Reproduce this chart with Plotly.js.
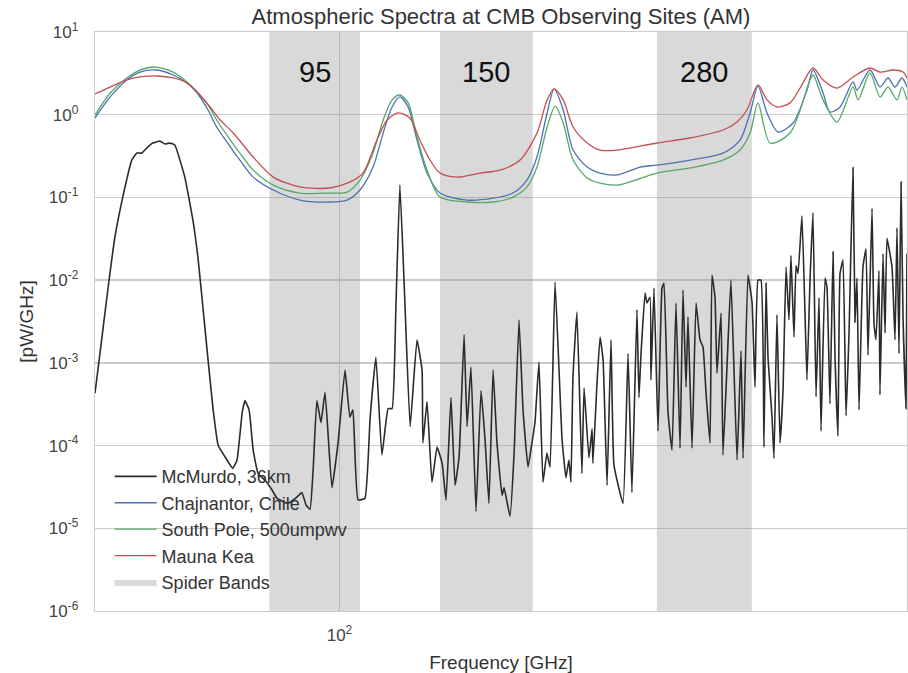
<!DOCTYPE html>
<html>
<head>
<meta charset="utf-8">
<script src="https://cdn.plot.ly/plotly-3.0.1.min.js"></script>
<style>html,body{margin:0;padding:0;background:#fff;}#chart{width:908px;height:673px;}</style>
</head>
<body>
<div id="chart"></div>
<script>
// McMurdo, 36km
const mcFreq = [
 50.0,51.0,51.9,52.9,54.1,55.5,56.3,57.1,57.9,58.9,
 60.1,61.0,61.8,62.7,64.5,66.0,67.0,67.9,68.9,69.9,
 70.9,72.7,73.9,74.8,75.9,76.5,77.4,78.3,79.4,81.0,
 82.6,83.8,86.4,88.7,89.9,91.0,92.0,92.8,93.8,94.9,
 96.0,97.9,99.6,101.6,103.0,103.9,105.4,107.5,109.1,110.9,
 112.8,114.8,116.1,117.4,118.7,120.4,122.2,124.6,126.4,126.7,
 128.2,130.0,131.9,133.8,135.3,137.2,138.8,140.4,142.4,143.6,
 145.2,147.3,149.4,151.1,152.8,154.6,156.3,158.6,159.5,162.2,
 164.1,166.4,168.3,170.7,172.6,174.1,176.1,178.1,180.1,181.7,
 184.3,188.0,190.1,191.7,192.8,193.9,196.1,198.9,200.1,202.9,
 204.7,205.2,207.6,209.4,211.2,213.6,216.0,217.8,223.5,226.7,
 229.2,232.5,233.8,235.2,237.9,239.2,241.3,241.9,244.0,246.8,
 249.6,251.0,253.9,256.8,259.7,262.7,264.9,267.2,268.7,271.8,
 274.9,278.0,280.4,282.8,286.0,287.6,290.1,291.7,295.1,296.7,
 300.1,303.5,308.8,312.3,314.1,318.5,322.2,324.9,327.7,330.5,
 333.3,335.2,337.1,341.0,342.9,345.8,348.8,351.8,354.8,357.8,
 359.8,362.9,365.0,367.1,371.2,374.4,376.5,379.8,383.0,386.3,
 389.6,391.8,396.3,398.5,401.9,405.4,407.7,411.1,413.5,417.0,
 420.6,424.2,429.0,431.5,433.9,436.4,441.3,445.1,447.7,452.8,
 455.3,457.9,461.8,463.1,467.1,469.8,472.4,479.2,483.3,486.0,
 488.8,491.6,494.4,498.6,500.0
];
const mcVal = [
 4.3e-4,2.05e-3,8.2e-3,3.3e-2,0.101,0.283,0.344,0.344,0.396,0.454,
 0.48,0.442,0.454,0.43,0.176,0.053,0.0175,4.7e-3,1.08e-3,2.7e-4,
 1.01e-4,6.7e-5,5.3e-5,6.7e-5,2.5e-4,3.5e-4,2.7e-4,8.8e-5,4.6e-5,3.8e-5,
 2.9e-5,2.3e-5,2.0e-5,2.4e-5,2.7e-5,1.9e-5,1.7e-5,5.0e-5,3.5e-4,1.9e-4,
 4.4e-4,3.1e-5,1.07e-4,8.2e-4,2.2e-4,2.7e-4,2.2e-5,2.3e-5,2.2e-4,1.17e-3,
 7.7e-5,2.8e-4,2.8e-4,5.3e-3,0.141,5.3e-3,1.7e-4,1.9e-3,8.2e-4,1.07e-4,
 3.4e-4,3.6e-5,9.6e-5,6.1e-5,2.2e-5,3.8e-4,3.3e-5,7.3e-5,2.2e-3,1.7e-4,
 8.9e-4,1.6e-5,4.6e-4,1.2e-4,2.0e-5,8.2e-4,1.1e-4,2.5e-5,3.1e-5,1.4e-5,
 8.1e-5,3.3e-3,2.7e-4,5.5e-5,1.07e-4,1.9e-4,1.02e-3,3.6e-5,8.1e-5,5.5e-5,
 9.5e-3,1.2e-4,4.1e-5,6.7e-5,3.6e-5,6.7e-4,4.1e-3,4.6e-5,5.0e-4,7.1e-5,
 1.6e-4,6.1e-5,5.7e-4,2.05e-3,1.08e-3,3.3e-5,1.9e-3,5.8e-5,2.0e-5,1.3e-3,
 2.7e-5,4.4e-3,3.8e-4,1.3e-3,7.0e-3,5.3e-3,6.2e-3,6.2e-4,8.0e-3,1.5e-4,
 8.0e-3,9.2e-3,2.5e-4,8.8e-5,5.3e-3,9.3e-5,7.6e-3,5.1e-4,3.6e-3,9.3e-5,
 5.3e-3,1.9e-3,1.55e-3,4.3e-4,1.07e-4,1.15e-2,6.2e-3,7.5e-4,4.0e-3,7.7e-5,
 8.9e-4,1.0e-2,6.7e-5,1.4e-3,7.0e-5,1.15e-2,5.4e-3,5.1e-4,1.0e-2,1.0e-2,
 9.6e-5,9.2e-3,1.17e-3,2.2e-4,7.0e-5,3.8e-3,1.07e-4,4.7e-4,1.44e-2,3.3e-3,
 2.0e-2,2.05e-3,1.5e-2,1.2e-2,6.0e-2,4.0e-3,6.2e-4,1.0e-2,6.5e-2,3.9e-4,
 6.1e-3,1.5e-4,1.06e-2,8.2e-3,3.2e-4,2.2e-2,1.17e-3,1.3e-4,1.2e-2,1.75e-2,
 2.3e-4,2.3e-3,0.23,3.1e-3,1.06e-2,2.7e-4,1.44e-2,2.4e-2,1.24e-3,7.4e-2,
 3.0e-3,1.9e-3,1.3e-2,4.1e-4,2.1e-2,2.3e-3,3.2e-2,1.44e-2,1.9e-3,4.3e-2,
 1.3e-3,0.154,3.6e-3,2.8e-4,2.1e-2
];

// Chajnantor, Chile
const chFreq = [50.0,52.2,54.7,56.8,59.6,62.4,64.9,66.8,68.9,70.6,73.4,75.4,78.3,82.9,89.4,97.4,102.2,106.0,110.0,113.2,116.1,118.7,121.5,124.6,128.2,133.0,143.6,154.6,163.6,170.2,175.1,180.2,183.9,188.6,194.0,201.9,209.4,219.8,234.5,246.1,270.3,296.8,311.4,320.4,327.7,336.2,346.9,361.9,376.6,383.1,394.1,401.9,413.5,429.1,433.9,450.2,463.2,473.8,483.2,492.9,500.0];
const chVal = [0.912,1.64,2.63,3.28,3.47,3.02,2.42,1.83,1.14,0.710,0.407,0.283,0.176,0.123,0.093,0.088,0.093,0.123,0.233,0.601,1.24,1.64,1.24,0.494,0.197,0.113,0.093,0.098,0.113,0.162,0.308,1.05,2.05,1.14,0.374,0.233,0.197,0.187,0.233,0.246,0.283,0.344,0.494,1.05,2.22,1.05,0.618,0.794,1.99,3.47,1.83,1.08,1.24,2.49,1.99,3.47,2.16,2.78,2.16,2.78,2.16];

// South Pole, 500umpwv
const spFreq = [50.0,52.2,54.7,56.8,59.3,62.4,64.9,66.8,68.9,70.6,73.4,75.4,78.3,82.9,89.4,97.4,102.2,106.0,110.0,113.2,116.1,118.7,121.5,124.6,128.2,133.0,143.6,154.6,163.6,170.2,175.1,180.2,184.4,188.6,194.0,201.9,209.4,219.8,246.1,270.3,296.8,311.4,320.4,327.7,339.1,358.9,379.8,383.1,394.1,410.0,429.1,435.2,450.2,463.2,473.8,486.0,492.9,500.0];
const spVal = [0.99,1.83,2.78,3.47,3.77,3.28,2.49,1.88,1.31,0.863,0.494,0.344,0.214,0.141,0.113,0.113,0.116,0.162,0.344,0.863,1.51,1.73,1.39,0.537,0.214,0.101,0.088,0.088,0.101,0.134,0.233,0.710,1.27,0.794,0.283,0.172,0.149,0.141,0.197,0.227,0.283,0.374,0.601,1.39,0.455,0.601,2.63,3.02,1.51,0.816,2.16,1.51,3.19,1.64,2.16,1.51,2.16,1.51];

// Mauna Kea
const mkFreq = [50.0,52.2,54.7,56.8,59.6,62.4,64.9,66.8,69.3,71.3,74.0,78.3,82.9,89.4,97.4,103.1,106.9,111.2,114.5,118.1,122.1,125.6,129.3,133.0,139.6,149.0,157.7,166.9,175.1,180.2,183.9,188.6,194.0,201.9,209.4,219.8,246.1,270.3,296.8,308.8,317.6,327.7,336.2,345.9,358.9,369.2,383.1,394.1,410.0,429.1,450.2,463.2,480.5,494.4,500.0];
const mkVal = [1.78,2.16,2.63,2.86,2.94,2.78,2.42,1.88,1.24,0.863,0.601,0.308,0.176,0.134,0.130,0.154,0.197,0.494,0.863,1.05,0.912,0.494,0.283,0.197,0.176,0.197,0.214,0.283,0.601,1.51,2.05,1.51,0.710,0.455,0.374,0.374,0.455,0.523,0.653,0.816,1.14,2.29,1.51,1.24,1.39,2.10,3.67,2.63,2.10,2.86,3.67,3.28,3.47,3.28,2.78];

// Spider bands (GHz)
const bandLabels = ['95','150','280'];
const bandLow  = [82, 133, 246];
const bandHigh = [106, 173, 322];

const Y_MIN = 1e-6, Y_MAX = 10;
const FONT = '"Liberation Sans", Arial, sans-serif';

const bx = [], by = [];
bandLow.forEach((lo, i) => {
  const hi = bandHigh[i];
  bx.push(lo, lo, hi, hi, lo, null);
  by.push(Y_MIN, Y_MAX, Y_MAX, Y_MIN, Y_MIN, null);
});

const traces = [
  {x: bx, y: by, type: 'scatter', mode: 'lines', fill: 'toself',
   fillcolor: 'rgba(128,128,128,0.3)', line: {width: 0, color: 'rgba(0,0,0,0)'},
   name: 'Spider Bands', legendrank: 5, hoverinfo: 'skip'},
  {x: mcFreq, y: mcVal, type: 'scatter', mode: 'lines', name: 'McMurdo, 36km',
   line: {color: '#2b2b2b', width: 1.6, shape: 'spline', smoothing: 0.35}, legendrank: 1},
  {x: chFreq, y: chVal, type: 'scatter', mode: 'lines', name: 'Chajnantor, Chile',
   line: {color: '#4C72B0', width: 1.3, shape: 'spline', smoothing: 0.8}, legendrank: 2},
  {x: spFreq, y: spVal, type: 'scatter', mode: 'lines', name: 'South Pole, 500umpwv',
   line: {color: '#55A868', width: 1.3, shape: 'spline', smoothing: 0.8}, legendrank: 3},
  {x: mkFreq, y: mkVal, type: 'scatter', mode: 'lines', name: 'Mauna Kea',
   line: {color: '#C44E52', width: 1.3, shape: 'spline', smoothing: 0.8}, legendrank: 4}
];

const yTicks = [1e-6,1e-5,1e-4,1e-3,1e-2,1e-1,1,10];
const yTickText = ['10<sup>-6</sup>','10<sup>-5</sup>','10<sup>-4</sup>','10<sup>-3</sup>','10<sup>-2</sup>','10<sup>-1</sup>','10<sup>0</sup>','10<sup>1</sup>'];

const annotations = bandLabels.map((t, i) => ({
  text: t, x: Math.log10(Math.sqrt(bandLow[i] * bandHigh[i])), xref: 'x',
  y: 0.931, yref: 'paper', showarrow: false,
  font: {size: 29, color: '#111', family: FONT}, xanchor: 'center', yanchor: 'middle'
}));

const layout = {
  width: 908, height: 673,
  margin: {l: 95, r: 1, t: 32, b: 62, pad: 0},
  paper_bgcolor: '#fff', plot_bgcolor: '#fff',
  font: {family: FONT, color: '#333'},
  title: {text: 'Atmospheric Spectra at CMB Observing Sites (AM)', font: {size: 22, color: '#333', family: FONT},
          x: 0.5, xref: 'paper', xanchor: 'center', y: 0.976, yref: 'container', yanchor: 'middle'},
  xaxis: {type: 'log', range: [Math.log10(50), Math.log10(500)],
          tickvals: [100], ticktext: ['10<sup>2</sup>'], ticks: '', ticklabelstandoff: 8,
          tickfont: {size: 17, color: '#444'},
          showgrid: true, gridcolor: '#cccccc', gridwidth: 1.3, zeroline: false,
          showline: true, mirror: true, linecolor: '#cccccc', linewidth: 1.3,
          title: {text: 'Frequency [GHz]', font: {size: 19, color: '#333'}, standoff: 14}},
  yaxis: {type: 'log', range: [-6, 1],
          tickvals: yTicks, ticktext: yTickText, ticks: '', ticklabelstandoff: 12,
          tickfont: {size: 17, color: '#444'},
          showgrid: true, gridcolor: '#cccccc', gridwidth: 1.3, zeroline: false,
          showline: true, mirror: true, linecolor: '#cccccc', linewidth: 1.3,
          title: {text: '[pW/GHz]', font: {size: 19, color: '#333'}, standoff: 10}},
  legend: {x: 0.018, y: 0.264, xanchor: 'left', yanchor: 'top', bgcolor: 'rgba(0,0,0,0)',
           borderwidth: 0, itemwidth: 42, font: {size: 18, color: '#333', family: FONT}},
  showlegend: true,
  annotations: annotations
};

Plotly.newPlot('chart', traces, layout, {staticPlot: true, displayModeBar: false});
</script>
</body>
</html>
